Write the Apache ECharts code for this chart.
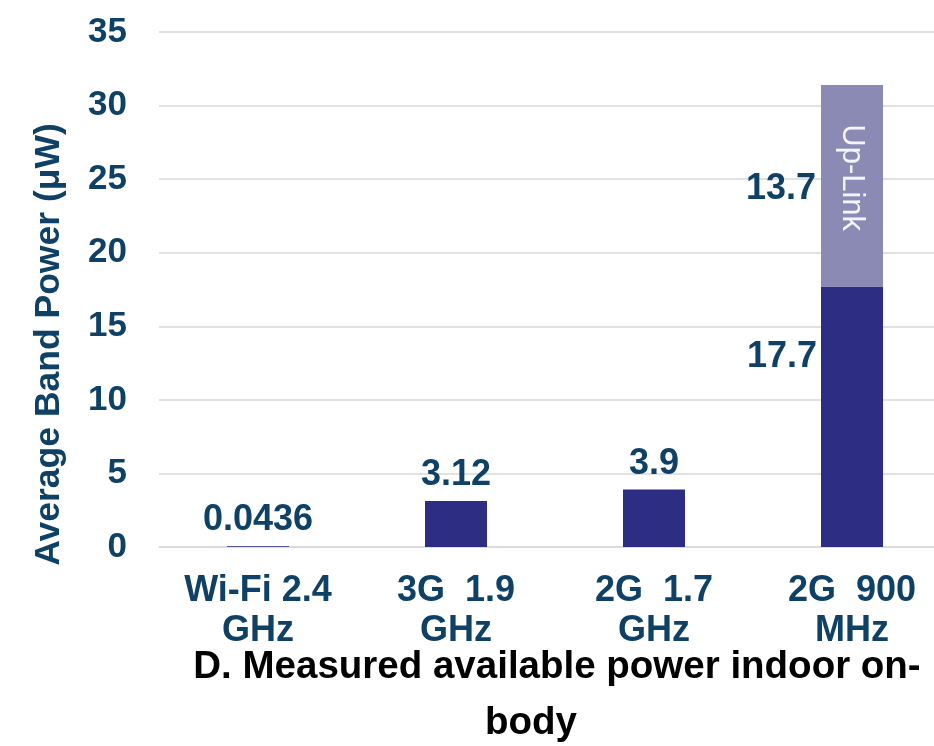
<!DOCTYPE html>
<html><head><meta charset="utf-8">
<script src="https://cdn.jsdelivr.net/npm/echarts@6/dist/echarts.min.js"></script>
<style>html,body{margin:0;padding:0;background:#fff;overflow:hidden;width:934px;height:746px}#c{width:951px;height:746px}</style>
</head><body><div id="c"></div>
<script>
var categories = ['Wi-Fi 2.4\nGHz', '3G  1.9\nGHz', '2G  1.7\nGHz', '2G  900\nMHz'];
var downLink = [0.0436, 3.12, 3.9, 17.7];
var upLink = [null, null, null, 13.7];
var downLabels = ['0.0436', '3.12', '3.9', '17.7'];
var upLabels = ['', '', '', '13.7'];
var yTicks = [0, 5, 10, 15, 20, 25, 30, 35];
var titleLines = ['D. Measured available power indoor on-', 'body'];

var textColor = '#0e4165';
var font = 'Liberation Sans, Arial, sans-serif';
var titleStyle = {color: '#000', fontSize: 38.5, fontWeight: 'bold', fontFamily: font};
var chart = echarts.init(document.getElementById('c'), null, {renderer: 'canvas'});
chart.setOption({
  animation: false,
  title: [
    {text: titleLines[0], left: 557, top: 648, textAlign: 'center', padding: 0, textStyle: titleStyle},
    {text: titleLines[1], left: 531, top: 704, textAlign: 'center', padding: 0, textStyle: titleStyle}
  ],
  grid: {left: 159, top: 32, right: 0, bottom: 199, containLabel: false},
  xAxis: {
    type: 'category', data: categories,
    axisLine: {lineStyle: {color: '#d9d9d9', width: 1.5}},
    axisTick: {show: false},
    axisLabel: {color: textColor, fontSize: 36, fontWeight: 'bold', fontFamily: font, lineHeight: 40, margin: 24}
  },
  yAxis: {
    type: 'value', min: 0, max: 35, interval: 5,
    name: 'Average Band Power (μW)', nameLocation: 'middle', nameGap: 92, nameRotate: 90,
    nameTextStyle: {color: textColor, fontSize: 35.5, fontWeight: 'bold', fontFamily: font, padding: [0, 110, 0, 0]},
    axisLine: {show: false}, axisTick: {show: false},
    splitLine: {lineStyle: {color: '#d9d9d9', width: 1.5}},
    axisLabel: {color: textColor, fontSize: 35, fontWeight: 'bold', fontFamily: font, margin: 32,
      formatter: function (v) { return yTicks.indexOf(v) >= 0 ? String(v) : ''; }}
  },
  series: [
    {
      type: 'bar', stack: 'p', data: downLink, barWidth: 62,
      itemStyle: {color: '#2e2d84'},
      label: {
        show: true, position: 'top', distance: 8, color: textColor, fontSize: 36, fontWeight: 'bold', fontFamily: font,
        formatter: function (p) { return downLabels[p.dataIndex]; }
      },
      labelLayout: function (params) {
        if (params.dataIndex === 3) {
          var r = params.rect;
          return {x: r.x - 4, y: r.y + r.height / 2 - 60, align: 'right', verticalAlign: 'middle'};
        }
        return {};
      }
    },
    {
      type: 'bar', stack: 'p', data: upLink, barWidth: 62,
      itemStyle: {color: '#8a8ab5'},
      label: {
        show: true, position: 'left', distance: 5, color: textColor, fontSize: 36, fontWeight: 'bold', fontFamily: font,
        formatter: function (p) { return upLabels[p.dataIndex]; }
      },
      labelLayout: function () { return {dy: 3}; },
      markPoint: {
        symbolSize: 0,
        data: [{coord: [3, 25.1], value: 'Up-Link'}],
        label: {show: true, position: 'inside', rotate: -90, color: '#f4f4fa', fontSize: 31, fontFamily: font,
          formatter: 'Up-Link'}
      }
    }
  ]
});
</script></body></html>
